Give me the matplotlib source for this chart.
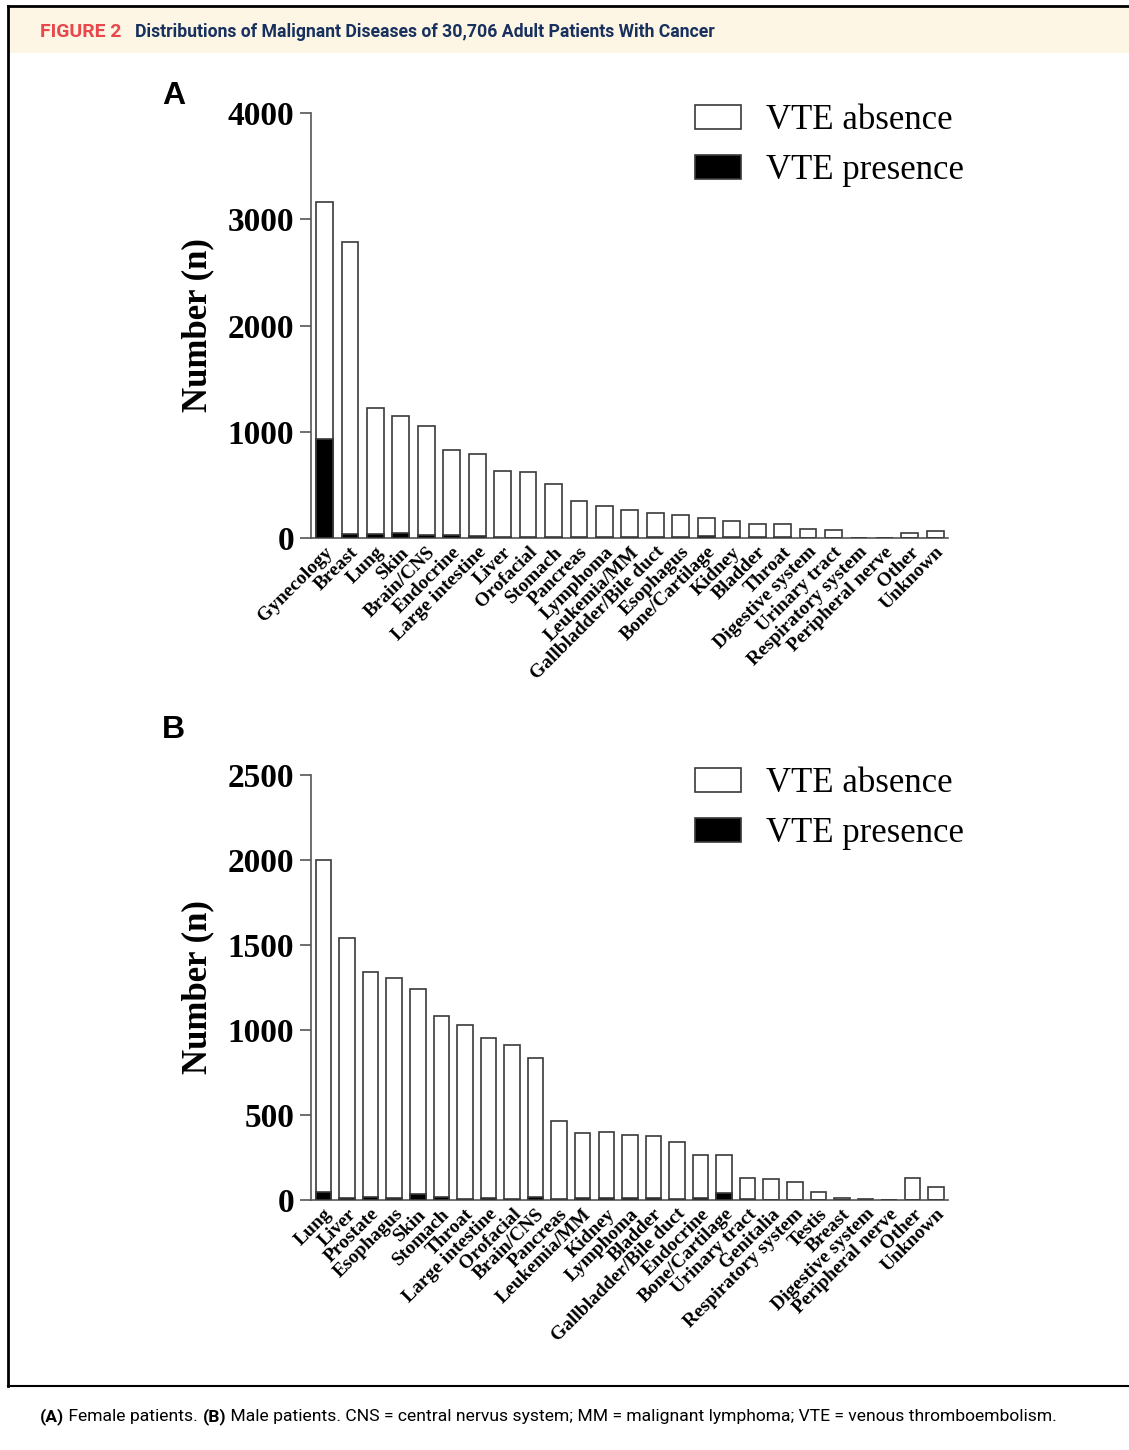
import matplotlib
matplotlib.use("Agg")
from matplotlib import pyplot as plt
from matplotlib.patches import Patch, Rectangle
from matplotlib.lines import Line2D

# Panel A - female patients
female_cats = ["Gynecology", "Breast", "Lung", "Skin", "Brain/CNS", "Endocrine",
               "Large intestine", "Liver", "Orofacial", "Stomach", "Pancreas",
               "Lymphoma", "Leukemia/MM", "Gallbladder/Bile duct", "Esophagus",
               "Bone/Cartilage", "Kidney", "Bladder", "Throat", "Digestive system",
               "Urinary tract", "Respiratory system", "Peripheral nerve", "Other",
               "Unknown"]
female_total = [3163, 2790, 1220, 1151, 1057, 826, 792, 628, 621, 511, 350, 297, 265,
                233, 215, 189, 158, 132, 129, 85, 79, 0, 0, 50, 69]
female_vte = [935, 38, 38, 47, 28, 28, 22, 8, 5, 8, 8, 10, 8, 5, 5, 22, 8, 5, 5, 3, 3,
              0, 0, 2, 3]

# Panel B - male patients
male_cats = ["Lung", "Liver", "Prostate", "Esophagus", "Skin", "Stomach", "Throat",
             "Large intestine", "Orofacial", "Brain/CNS", "Pancreas", "Leukemia/MM",
             "Kidney", "Lymphoma", "Bladder", "Gallbladder/Bile duct", "Endocrine",
             "Bone/Cartilage", "Urinary tract", "Genitalia", "Respiratory system",
             "Testis", "Breast", "Digestive system", "Peripheral nerve", "Other",
             "Unknown"]
male_total = [2000, 1541, 1341, 1304, 1240, 1081, 1028, 953, 910, 836, 465, 396, 400,
              384, 378, 343, 265, 265, 129, 125, 106, 47, 12, 8, 0, 129, 76]
male_vte = [49, 10, 16, 10, 37, 16, 4, 10, 4, 16, 4, 10, 10, 10, 10, 4, 10, 43, 4, 2,
            2, 2, 2, 2, 0, 2, 2]

SERIF = "Liberation Serif"
SANS = ["Roboto", "DejaVu Sans"]
EDGE = "#3a3a3a"

fig = plt.figure(figsize=(11.29, 14.5), dpi=100)


def fx(px):
    return px / 1129


def fy(py):
    return 1 - py / 1450


# frame and header band
fig.patches.append(Rectangle((fx(9), fy(53)), fx(1129 - 9), 45 / 1450,
                             transform=fig.transFigure, facecolor="#fdf6e4",
                             edgecolor="none", zorder=0))
fig.add_artist(Line2D([fx(8), 1], [fy(6), fy(6)], color="black", lw=2))
fig.add_artist(Line2D([fx(8), fx(8)], [fy(6), fy(1386)], color="black", lw=2))
fig.add_artist(Line2D([fx(8), 1], [fy(1386), fy(1386)], color="black", lw=1.5))


def text_run(x_px, y_px, pieces, width_px, size=12):
    # draw text pieces one after another, shrunk so the whole line fits width_px
    r = fig.canvas.get_renderer()
    made = []
    total = 0
    for s, color, weight in pieces:
        t = fig.text(0, fy(y_px), s, color=color, fontsize=size, fontweight=weight,
                     family=SANS, va="center", ha="left")
        total += t.get_window_extent(renderer=r).width
        made.append(t)
    k = width_px / total
    x = x_px
    for t in made:
        t.set_fontsize(size * k)
        t.set_x(fx(x))
        x += t.get_window_extent(renderer=r).width


text_run(40, 32, [("FIGURE 2", "#e8474c", "bold")], 81)
text_run(135, 32, [("Distributions of Malignant Diseases of 30,706 Adult Patients With Cancer",
                    "#17305e", "bold")], 581)
text_run(40, 1417, [("(A)", "black", "bold"),
                    (" Female patients. ", "black", "normal"),
                    ("(B)", "black", "bold"),
                    (" Male patients. CNS = central nervus system; MM = malignant lymphoma; "
                     "VTE = venous thromboembolism.", "black", "normal")], 1012)


def panel(top_px, cats, total, vte, ymax, step, letter, letter_y, legend_top):
    ax = fig.add_axes([fx(311), fy(top_px + 425), fx(948 - 311), 425 / 1450])
    x = list(range(len(cats)))
    ax.bar(x, total, width=0.66, color="white", edgecolor=EDGE, linewidth=1.2, zorder=2)
    ax.bar(x, vte, width=0.66, color="black", edgecolor=EDGE, linewidth=1.2, zorder=3)
    ax.set_xlim(-0.53, len(cats) - 0.5)
    ax.set_ylim(0, ymax)
    ax.set_yticks(range(0, ymax + 1, step))
    for sp in ["top", "right"]:
        ax.spines[sp].set_visible(False)
    for sp in ["left", "bottom"]:
        ax.spines[sp].set_color("#555555")
        ax.spines[sp].set_linewidth(1.2)
    ax.tick_params(axis="y", length=8, width=1.2, color="#555555", pad=4)
    ax.tick_params(axis="x", length=0, pad=4)
    for lab in ax.get_yticklabels():
        lab.set_family(SERIF)
        lab.set_fontweight("bold")
        lab.set_fontsize(24)
    ax.set_xticks(x)
    ax.set_xticklabels(cats, rotation=45, ha="right", va="top", rotation_mode="anchor",
                       family=SERIF, fontweight="bold", fontsize=14)
    ax.set_ylabel("Number (n)", family=SERIF, fontweight="bold", fontsize=25, labelpad=10)
    fig.text(fx(162), fy(letter_y), letter, family="Liberation Sans",
             fontweight="bold", fontsize=23, va="center", ha="left")
    handles = [Patch(facecolor="white", edgecolor=EDGE, linewidth=1.2, label="VTE absence"),
               Patch(facecolor="black", edgecolor=EDGE, linewidth=1.2, label="VTE presence")]
    fig.legend(handles=handles, loc="upper left", bbox_to_anchor=(fx(695), fy(legend_top)),
               bbox_transform=fig.transFigure, frameon=False, borderpad=0, borderaxespad=0,
               handlelength=1.33, handleheight=0.67, handletextpad=0.72, labelspacing=0.5,
               prop={"family": SERIF, "size": 25})
    return ax


panel(113, female_cats, female_total, female_vte, 4000, 1000, "A", 96, 104)
panel(775, male_cats, male_total, male_vte, 2500, 500, "B", 730, 767)

fig.savefig("out.png", dpi=100)
